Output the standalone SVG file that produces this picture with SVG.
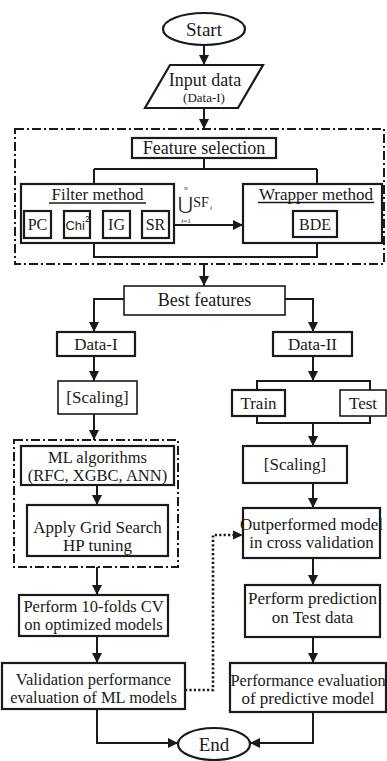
<svg xmlns="http://www.w3.org/2000/svg" width="387" height="761" viewBox="0 0 387 761">
<style>
  .bg{fill:#fff}
  .box{fill:#fff;stroke:#1a1a1a;stroke-width:2.2}
  .thin{fill:#fff;stroke:#1a1a1a;stroke-width:1.6}
  .grp{fill:none;stroke:#1a1a1a;stroke-width:2;stroke-dasharray:9 3 2 3}
  .ln{fill:none;stroke:#1a1a1a;stroke-width:2}
  .dot{fill:none;stroke:#1a1a1a;stroke-width:2.6;stroke-dasharray:2.2 2.2}
  text{font-family:"Liberation Serif","Times New Roman",serif;fill:#1a1a1a;text-anchor:middle}
  .t18{font-size:18px}
  .t17{font-size:17px}
  .t165{font-size:16.5px}
  .t16{font-size:16px}
  .t19{font-size:19px}
  .t13{font-size:13px}
  .sans{font-family:"Liberation Sans",Arial,sans-serif}
</style>
<defs>
  <marker id="ah" viewBox="0 0 10 10" refX="10" refY="5" markerWidth="11" markerHeight="10" markerUnits="userSpaceOnUse" orient="auto">
    <path d="M0,0 L10,5 L0,10 z" fill="#1a1a1a"/>
  </marker>
</defs>
<rect class="bg" x="0" y="0" width="387" height="761"/>

<!-- group frames -->
<g id="feature-selection-group">
  <rect class="grp" x="15" y="129" width="369" height="135"/>
</g>
<g id="ml-tuning-group">
  <rect class="grp" x="14" y="440" width="164" height="127"/>
</g>

<!-- connectors -->
<g id="connectors">
  <path class="ln" d="M204,45 V65" marker-end="url(#ah)"/>
  <path class="ln" d="M204,108 V129" marker-end="url(#ah)"/>
  <path class="ln" d="M204,158 V169 M94,169 H317 M94,169 V184 M317,169 V184"/>
  <path class="ln" d="M174,225 H243" marker-end="url(#ah)"/>
  <path class="ln" d="M94,243 V257 H317 V243"/>
  <path class="ln" d="M204,264 V286" marker-end="url(#ah)"/>
  <path class="ln" d="M124,299 H94 V332" marker-end="url(#ah)"/>
  <path class="ln" d="M285,299 H313 V332" marker-end="url(#ah)"/>
  <path class="ln" d="M94,356 V381" marker-end="url(#ah)"/>
  <path class="ln" d="M94,414 V440" marker-end="url(#ah)"/>
  <path class="ln" d="M97,485 V505" marker-end="url(#ah)"/>
  <path class="ln" d="M97,567 V595" marker-end="url(#ah)"/>
  <path class="ln" d="M97,636 V663" marker-end="url(#ah)"/>
  <path class="ln" d="M97,709 V743 H178" marker-end="url(#ah)"/>
  <path class="ln" d="M313,356 V381" marker-end="url(#ah)"/>
  <path class="ln" d="M257,390 V381 H370 V390"/>
  <path class="ln" d="M257,416 V423 H370 V416"/>
  <path class="ln" d="M313,423 V446" marker-end="url(#ah)"/>
  <path class="ln" d="M313,483 V508" marker-end="url(#ah)"/>
  <path class="ln" d="M313,558 V585" marker-end="url(#ah)"/>
  <path class="ln" d="M313,637 V663" marker-end="url(#ah)"/>
  <path class="ln" d="M313,712 V743 H250" marker-end="url(#ah)"/>
  <path class="dot" d="M185,690 H213 V535 H236"/>
  <path d="M233,530.5 L243,535 L233,539.5 z" fill="#1a1a1a"/>
  <!-- filter chain links -->
  <path class="ln" d="M51,224.5 H64 M90,224.5 H103 M130,224.5 H142 M169,224.5 H174"/>
</g>

<g id="start">
  <ellipse class="box" cx="204" cy="29" rx="41" ry="16"/>
  <text class="t19" x="204" y="35.5">Start</text>
</g>

<g id="input-data">
  <polygon class="box" points="170,65 263,65 238,108 145,108"/>
  <text class="t18" x="205" y="86">Input data</text>
  <text class="t13" x="204" y="102">(Data-I)</text>
</g>

<g id="feature-selection">
  <rect class="box" x="132" y="138" width="144" height="20"/>
  <text class="t18" x="204" y="154">Feature selection</text>
</g>

<g id="filter-method">
  <rect class="box" x="21" y="184" width="153" height="59"/>
  <text class="t17" x="97.5" y="200">Filter method</text>
  <line x1="49" y1="203" x2="146" y2="203" stroke="#1a1a1a" stroke-width="1.4"/>
</g>
<g id="pc">
  <rect class="box" x="24" y="211" width="27" height="27"/>
  <text class="t16" x="37.5" y="230">PC</text>
</g>
<g id="chi2">
  <rect class="box" x="64" y="211" width="26" height="27"/>
  <text class="sans" x="77.5" y="230" font-size="13">Chi<tspan dy="-8" font-size="8.5">2</tspan></text>
</g>
<g id="ig">
  <rect class="box" x="103" y="211" width="27" height="27"/>
  <text class="t16" x="116.5" y="230">IG</text>
</g>
<g id="sr">
  <rect class="box" x="142" y="211" width="27" height="27"/>
  <text class="t16" x="155.5" y="230">SR</text>
</g>

<g id="union-label">
  <text x="185" y="210" font-size="18" style="font-family:'DejaVu Serif',serif">⋃</text>
  <text x="186" y="190" font-size="7" font-style="italic">n</text>
  <text x="186" y="223" font-size="7"><tspan font-style="italic">i</tspan>=1</text>
  <text x="201" y="207" font-size="14">SF</text>
  <text x="211" y="210" font-size="7" font-style="italic">i</text>
</g>

<g id="wrapper-method">
  <rect class="box" x="243" y="184" width="139" height="59"/>
  <text class="t17" x="316" y="200">Wrapper method</text>
  <line x1="258" y1="202.5" x2="374" y2="202.5" stroke="#1a1a1a" stroke-width="1.4"/>
</g>
<g id="bde">
  <rect class="box" x="293" y="211" width="44" height="26"/>
  <text class="t16" x="315" y="230">BDE</text>
</g>

<g id="best-features">
  <rect class="thin" x="124" y="286" width="161" height="29"/>
  <text class="t18" x="204.5" y="306">Best features</text>
</g>

<g id="data-i">
  <rect class="box" x="57" y="332" width="78" height="24"/>
  <text class="t17" x="96" y="350">Data-I</text>
</g>
<g id="data-ii">
  <rect class="box" x="273" y="332" width="79" height="24"/>
  <text class="t17" x="312.5" y="350">Data-II</text>
</g>

<g id="scaling-left">
  <rect class="thin" x="58" y="381" width="79" height="33"/>
  <text class="t17" x="97.5" y="403">[Scaling]</text>
</g>

<g id="train">
  <rect class="box" x="232" y="390" width="53" height="26"/>
  <text class="t17" x="258.5" y="409">Train</text>
</g>
<g id="test">
  <rect class="thin" x="340" y="390" width="46" height="26"/>
  <text class="t17" x="363" y="409">Test</text>
</g>

<g id="ml-algorithms">
  <rect class="box" x="21" y="446" width="153" height="39"/>
  <text class="t165" x="97.5" y="463">ML algorithms</text>
  <text class="t165" x="97.5" y="481">(RFC, XGBC, ANN)</text>
</g>

<g id="grid-search">
  <rect class="box" x="27" y="505" width="141" height="51"/>
  <text class="t17" x="97.5" y="533">Apply Grid Search</text>
  <text class="t17" x="97.5" y="551">HP tuning</text>
</g>

<g id="perform-cv">
  <rect class="box" x="19" y="595" width="149" height="41"/>
  <text class="t165" x="93.5" y="612">Perform 10-folds CV</text>
  <text class="t165" x="93.5" y="630">on optimized models</text>
</g>

<g id="validation">
  <rect class="box" x="2" y="663" width="183" height="46"/>
  <text class="t165" x="93.5" y="685">Validation performance</text>
  <text class="t165" x="93.5" y="703">evaluation of ML models</text>
</g>

<g id="scaling-right">
  <rect class="box" x="243" y="446" width="104" height="37"/>
  <text class="t17" x="295" y="470">[Scaling]</text>
</g>

<g id="outperformed">
  <rect class="box" x="243" y="508" width="137" height="50"/>
  <text class="t17" x="311.5" y="530">Outperformed model</text>
  <text class="t17" x="311.5" y="548">in cross validation</text>
</g>

<g id="prediction">
  <rect class="box" x="245" y="585" width="135" height="52"/>
  <text class="t17" x="312.5" y="604">Perform prediction</text>
  <text class="t17" x="312.5" y="623">on Test data</text>
</g>

<g id="performance-evaluation">
  <rect class="box" x="230" y="663" width="156" height="49"/>
  <text x="308" y="686" font-size="16.3">Performance evaluation</text>
  <text class="t17" x="308" y="704">of predictive model</text>
</g>

<g id="end">
  <ellipse class="box" cx="214" cy="744" rx="36" ry="16"/>
  <text class="t19" x="214" y="750.5">End</text>
</g>
</svg>
